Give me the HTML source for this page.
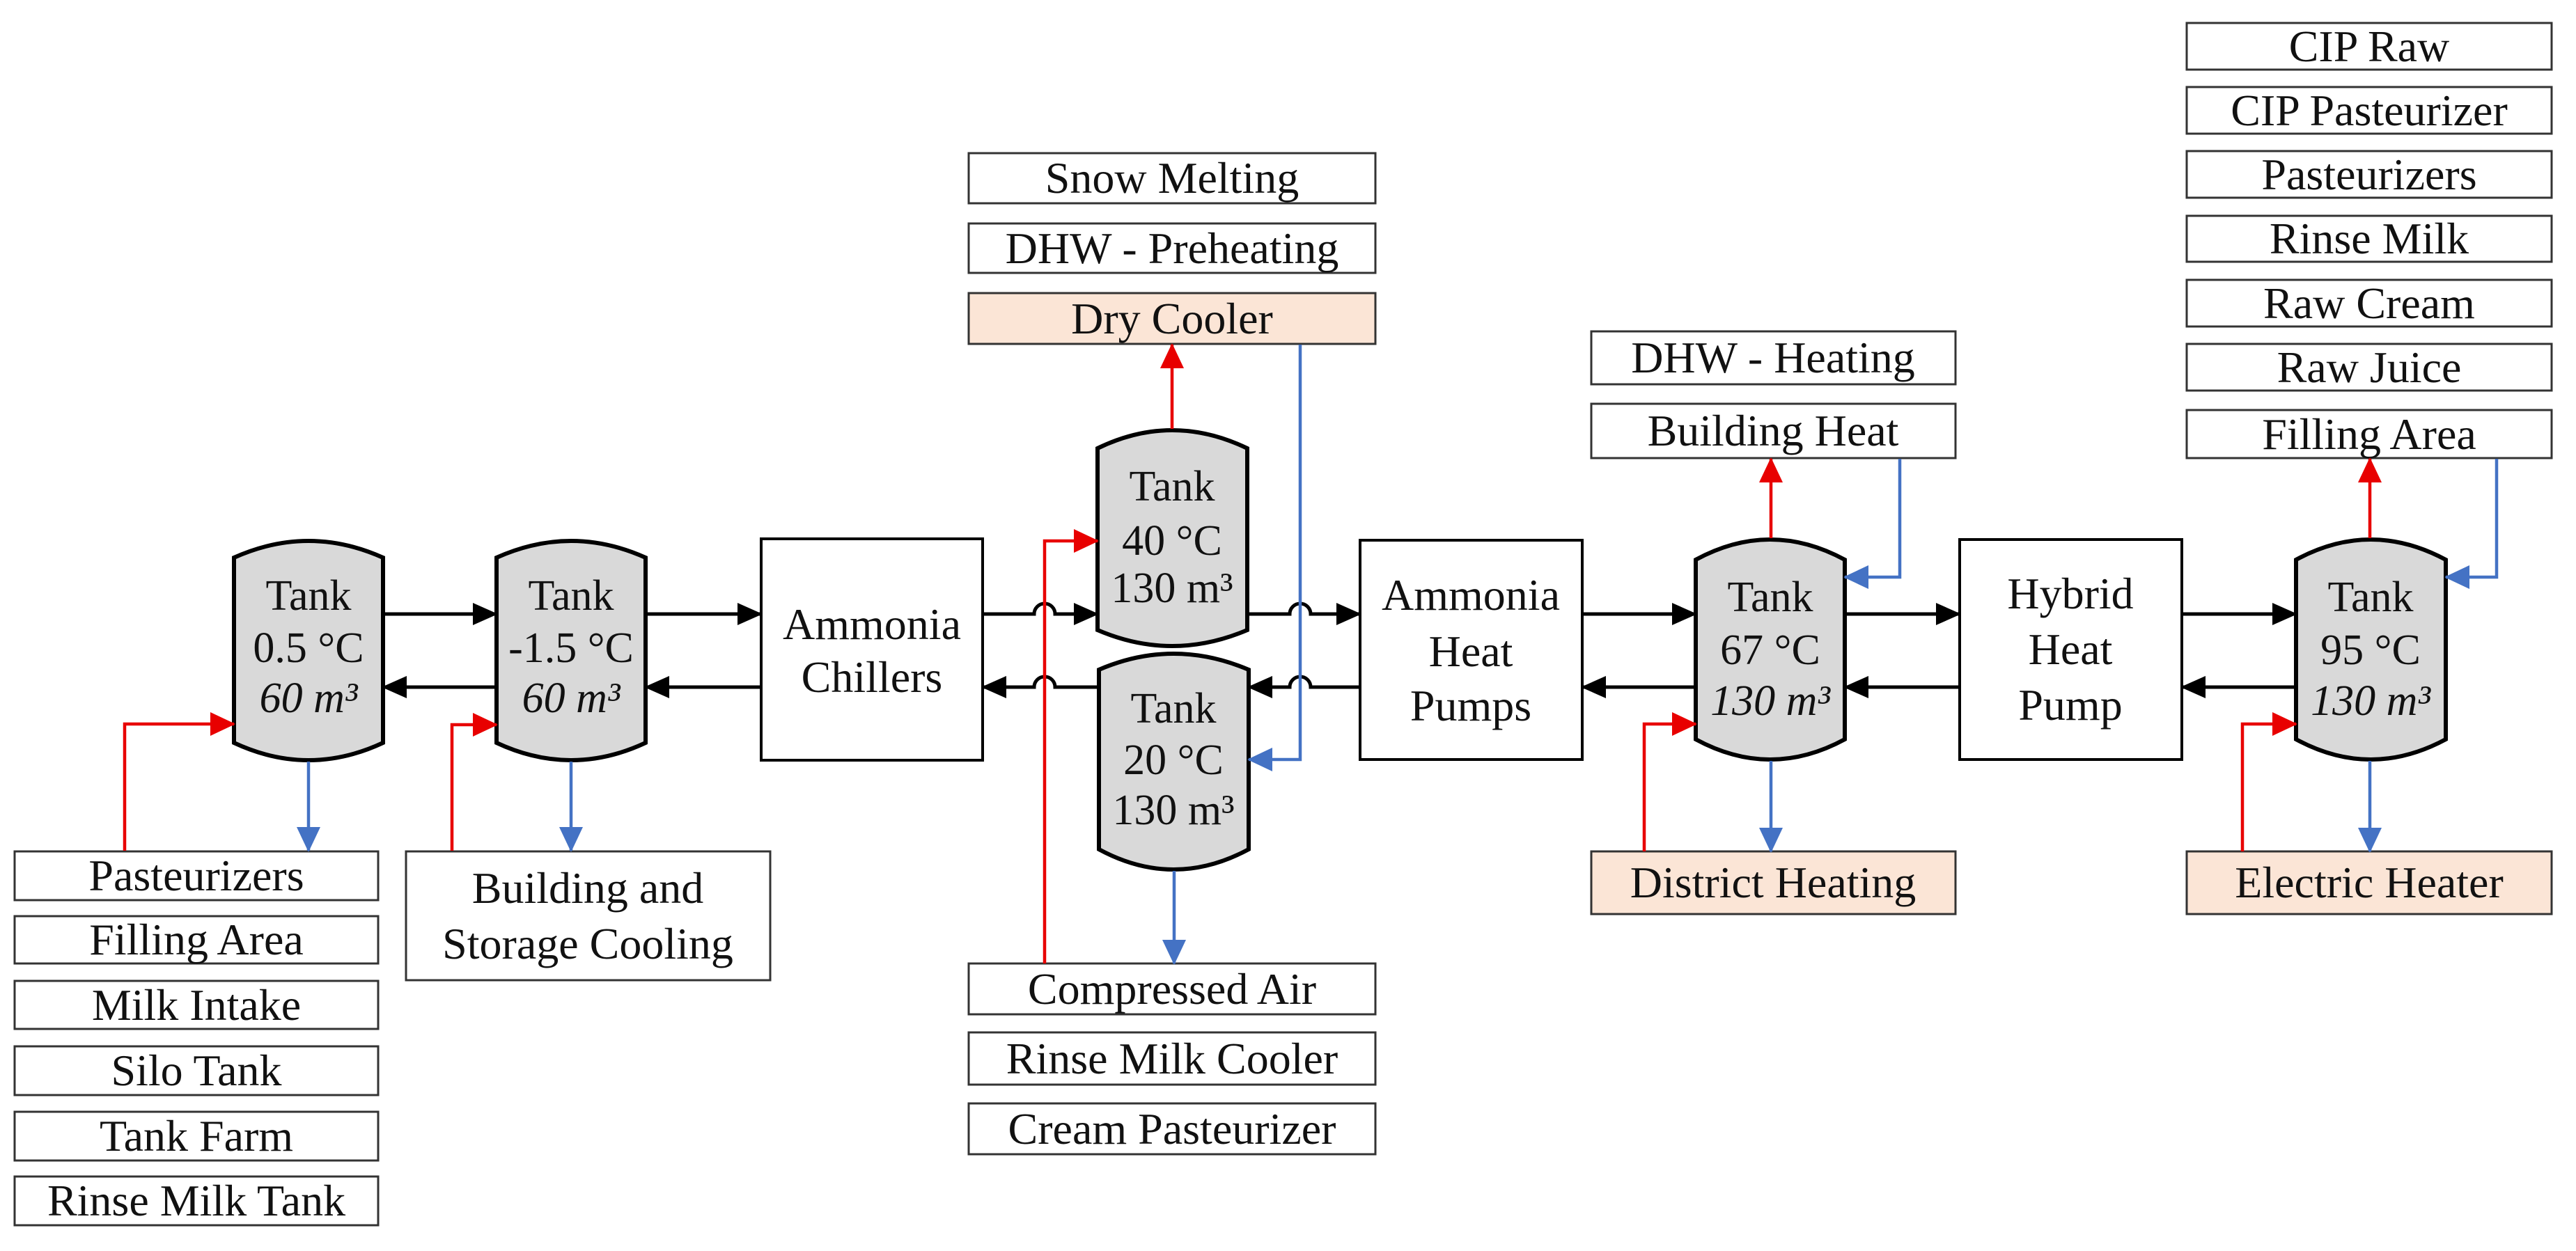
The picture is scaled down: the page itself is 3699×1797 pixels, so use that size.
<!DOCTYPE html>
<html><head><meta charset="utf-8"><style>
html,body{margin:0;padding:0;background:#fff;}
svg{display:block;}
svg text{font-family:"Liberation Serif","Times New Roman","DejaVu Serif",serif;font-size:64px;fill:#111;text-anchor:middle;}
svg text.t{font-size:62px;}
svg text.i{font-style:italic;}
.box{fill:#fff;stroke:#333;stroke-width:3;}
.pe{fill:#fbe5d6;stroke:#333;stroke-width:3;}
.eq{fill:#fff;stroke:#000;stroke-width:4;}
.tank{fill:#d9d9d9;stroke:#000;stroke-width:6;}
.k{fill:none;stroke:#000;stroke-width:5;}
.r{fill:none;stroke:#e80000;stroke-width:4.5;}
.b{fill:none;stroke:#4472c4;stroke-width:4.5;}
</style></head><body>
<svg width="3699" height="1797" viewBox="0 0 3699 1797" xmlns="http://www.w3.org/2000/svg" font-family="Liberation Serif, Times New Roman, serif">
<defs>
<marker id="ak" markerUnits="userSpaceOnUse" markerWidth="36" markerHeight="32" refX="34" refY="16" orient="auto"><path d="M0,0 L36,16 L0,32 z" fill="#000"/></marker>
<marker id="ar" markerUnits="userSpaceOnUse" markerWidth="36" markerHeight="34" refX="34" refY="17" orient="auto"><path d="M0,0 L36,17 L0,34 z" fill="#e80000"/></marker>
<marker id="ab" markerUnits="userSpaceOnUse" markerWidth="36" markerHeight="34" refX="34" refY="17" orient="auto"><path d="M0,0 L36,17 L0,34 z" fill="#4472c4"/></marker>
</defs>

<rect class="box" x="21" y="1223" width="522" height="70"/><text x="282" y="1279">Pasteurizers</text>
<rect class="box" x="21" y="1316" width="522" height="68"/><text x="282" y="1371">Filling Area</text>
<rect class="box" x="21" y="1409" width="522" height="69"/><text x="282" y="1465">Milk Intake</text>
<rect class="box" x="21" y="1503" width="522" height="70"/><text x="282" y="1559">Silo Tank</text>
<rect class="box" x="21" y="1597" width="522" height="70"/><text x="282" y="1653">Tank Farm</text>
<rect class="box" x="21" y="1690" width="522" height="70"/><text x="282" y="1746">Rinse Milk Tank</text>
<rect class="box" x="583" y="1223" width="523" height="185"/>
<text x="844" y="1297">Building and</text><text x="844" y="1377">Storage Cooling</text>

<rect class="box" x="1391" y="220" width="584" height="72"/><text x="1683" y="277">Snow Melting</text>
<rect class="box" x="1391" y="321" width="584" height="71"/><text x="1683" y="378">DHW - Preheating</text>
<rect class="pe" x="1391" y="421" width="584" height="73"/><text x="1683" y="479">Dry Cooler</text>
<rect class="box" x="1391" y="1384" width="584" height="73"/><text x="1683" y="1442">Compressed Air</text>
<rect class="box" x="1391" y="1483" width="584" height="75"/><text x="1683" y="1542">Rinse Milk Cooler</text>
<rect class="box" x="1391" y="1585" width="584" height="73"/><text x="1683" y="1643">Cream Pasteurizer</text>

<rect class="box" x="2285" y="476" width="523" height="76"/><text x="2546" y="535">DHW - Heating</text>
<rect class="box" x="2285" y="580" width="523" height="78"/><text x="2546" y="640">Building Heat</text>
<rect class="pe" x="2285" y="1223" width="523" height="90"/><text x="2546" y="1289">District Heating</text>
<rect class="box" x="3140" y="33" width="524" height="67"/><text x="3402" y="88">CIP Raw</text>
<rect class="box" x="3140" y="125" width="524" height="67"/><text x="3402" y="180">CIP Pasteurizer</text>
<rect class="box" x="3140" y="217" width="524" height="67"/><text x="3402" y="272">Pasteurizers</text>
<rect class="box" x="3140" y="310" width="524" height="66"/><text x="3402" y="364">Rinse Milk</text>
<rect class="box" x="3140" y="402" width="524" height="67"/><text x="3402" y="457">Raw Cream</text>
<rect class="box" x="3140" y="494" width="524" height="67"/><text x="3402" y="549">Raw Juice</text>
<rect class="box" x="3140" y="589" width="524" height="69"/><text x="3402" y="645">Filling Area</text>
<rect class="pe" x="3140" y="1223" width="524" height="90"/><text x="3402" y="1289">Electric Heater</text>

<rect class="eq" x="1093" y="774" width="318" height="318"/>
<text x="1252" y="918">Ammonia</text><text x="1252" y="994">Chillers</text>
<rect class="eq" x="1953" y="776" width="319" height="315"/>
<text x="2112" y="876">Ammonia</text><text x="2112" y="957">Heat</text><text x="2112" y="1035">Pumps</text>
<rect class="eq" x="2814" y="775" width="319" height="316"/>
<text x="2973" y="874">Hybrid</text><text x="2973" y="954">Heat</text><text x="2973" y="1034">Pump</text>

<path class="tank" d="M336,801 Q443,753 550,801 L550,1067 Q443,1117 336,1067 Z"/>
<text class="t" x="443" y="876">Tank</text><text class="t" x="443" y="951">0.5 °C</text><text class="t i" x="443" y="1023">60 m³</text>
<path class="tank" d="M713,801 Q820,753 927,801 L927,1067 Q820,1117 713,1067 Z"/>
<text class="t" x="820" y="876">Tank</text><text class="t" x="820" y="951">-1.5 °C</text><text class="t i" x="820" y="1023">60 m³</text>
<path class="tank" d="M1576,644 Q1683,592 1791,644 L1791,905 Q1683,951 1576,905 Z"/>
<text class="t" x="1683" y="719">Tank</text><text class="t" x="1683" y="797">40 °C</text><text class="t" x="1683" y="865">130 m³</text>
<path class="tank" d="M1578,962 Q1685,916 1793,962 L1793,1220 Q1685,1278 1578,1220 Z"/>
<text class="t" x="1685" y="1038">Tank</text><text class="t" x="1685" y="1112">20 °C</text><text class="t" x="1685" y="1184">130 m³</text>
<path class="tank" d="M2435,804 Q2542,746 2649,804 L2649,1062 Q2542,1120 2435,1062 Z"/>
<text class="t" x="2542" y="878">Tank</text><text class="t" x="2542" y="954">67 °C</text><text class="t i" x="2542" y="1027">130 m³</text>
<path class="tank" d="M3297,804 Q3404,746 3512,804 L3512,1062 Q3404,1120 3297,1062 Z"/>
<text class="t" x="3404" y="878">Tank</text><text class="t" x="3404" y="954">95 °C</text><text class="t i" x="3404" y="1027">130 m³</text>

<path class="k" d="M550,882 H713" marker-end="url(#ak)"/>
<path class="k" d="M713,987 H550" marker-end="url(#ak)"/>
<path class="k" d="M927,882 H1093" marker-end="url(#ak)"/>
<path class="k" d="M1093,987 H927" marker-end="url(#ak)"/>
<path class="k" d="M1411,882 H1485 A15,15 0 0 1 1515,882 H1576" marker-end="url(#ak)"/>
<path class="k" d="M1578,987 H1515 A15,15 0 0 0 1485,987 H1411" marker-end="url(#ak)"/>
<path class="k" d="M1791,882 H1852 A15,15 0 0 1 1882,882 H1953" marker-end="url(#ak)"/>
<path class="k" d="M1953,987 H1882 A15,15 0 0 0 1852,987 H1793" marker-end="url(#ak)"/>
<path class="k" d="M2272,882 H2435" marker-end="url(#ak)"/>
<path class="k" d="M2435,987 H2272" marker-end="url(#ak)"/>
<path class="k" d="M2649,882 H2814" marker-end="url(#ak)"/>
<path class="k" d="M2814,987 H2649" marker-end="url(#ak)"/>
<path class="k" d="M3133,882 H3297" marker-end="url(#ak)"/>
<path class="k" d="M3297,987 H3133" marker-end="url(#ak)"/>

<path class="r" d="M179,1222 V1040 H336" marker-end="url(#ar)"/>
<path class="b" d="M443,1094 V1222" marker-end="url(#ab)"/>
<path class="r" d="M649,1222 V1041 H713" marker-end="url(#ar)"/>
<path class="b" d="M820,1094 V1222" marker-end="url(#ab)"/>
<path class="r" d="M1500,1384 V777 H1576" marker-end="url(#ar)"/>
<path class="r" d="M1683,616 V495" marker-end="url(#ar)"/>
<path class="b" d="M1867,495 V1091 H1793" marker-end="url(#ab)"/>
<path class="b" d="M1686,1251 V1384" marker-end="url(#ab)"/>
<path class="r" d="M2543,773 V659" marker-end="url(#ar)"/>
<path class="b" d="M2728,659 V829 H2649" marker-end="url(#ab)"/>
<path class="r" d="M2361,1223 V1040 H2435" marker-end="url(#ar)"/>
<path class="b" d="M2543,1093 V1223" marker-end="url(#ab)"/>
<path class="r" d="M3403,773 V659" marker-end="url(#ar)"/>
<path class="b" d="M3585,659 V829 H3512" marker-end="url(#ab)"/>
<path class="r" d="M3220,1223 V1040 H3297" marker-end="url(#ar)"/>
<path class="b" d="M3403,1093 V1223" marker-end="url(#ab)"/>
</svg>
</body></html>
